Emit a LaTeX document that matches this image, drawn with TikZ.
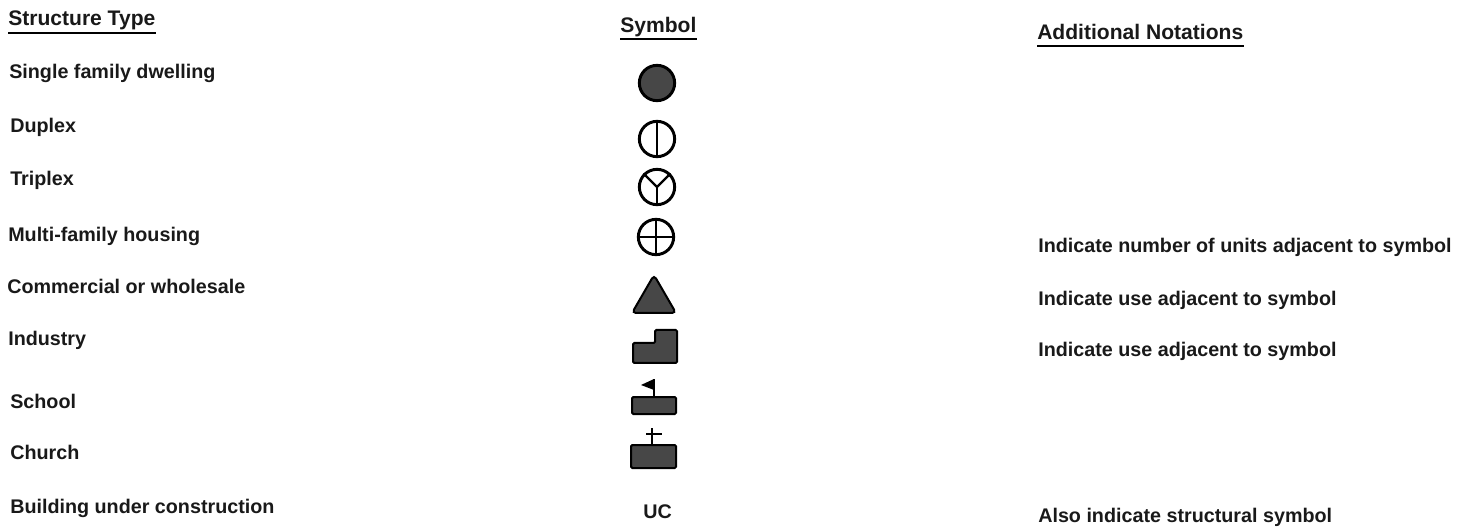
\documentclass[tikz,border=0pt]{standalone}
\usepackage{fontspec}
\setmainfont{Liberation Sans}
\tikzset{
label/.style={anchor=base west,inner sep=0pt,font=\fontsize{14.8}{16}\selectfont\bfseries,text=black!90},
heading/.style={label,font=\fontsize{15.8}{17}\selectfont\bfseries},
rule/.style={line width=1.5pt,black},
ring/.style={circle,draw=black,line width=2.2pt,minimum size=26.5pt,inner sep=0pt},
solid block/.style={draw=black,fill=black!72,line width=1.5pt,rounded corners=1pt},
mark line/.style={line width=1.8pt,black}
}
\begin{document}
\begin{tikzpicture}[x=0.75pt,y=-0.75pt]
\useasboundingbox (0,0) rectangle (1457,527);
% the headings
\node[heading] (type) at (8,26) {Structure Type};
\node[heading] (symbol) at (620,33) {Symbol};
\node[heading] (notes) at (1037,40) {Additional Notations};
\draw[rule] ([yshift=-5.5pt]type.base west) -- ([yshift=-5.5pt]type.base east);
\foreach \n in {symbol,notes}
{
  \draw[rule] ([yshift=-4.5pt]\n.base west) -- ([yshift=-4.5pt]\n.base east);
}
% the left column
\foreach \n/\x/\y/\t in {single/9/79/Single family dwelling,duplex/10/133/Duplex,triplex/10/186/Triplex,multi/8/242/Multi-family housing,commercial/7/294/Commercial or wholesale,industry/8/345/Industry,school/10/408/School,church/10/459/Church,building/10/513/Building under construction}
{
  \node[label] (\n) at (\x,\y) {\t};
}
% the right column
\node[label] (noteunits) at (1038,253) {Indicate number of units adjacent to symbol};
\node[label] (notecomm) at (1038,306) {Indicate use adjacent to symbol};
\node[label] (noteind) at (1038,357) {Indicate use adjacent to symbol};
\node[label] (noteuc) at (1038,522) {Also indicate structural symbol};
% the housing symbols
\node[ring,fill=black!72] (symsingle) at (657,83) {};
\node[ring] (symduplex) at (657,139) {};
\draw[mark line] (symduplex.north) -- (symduplex.south);
\node[ring] (symtriplex) at (657,187) {};
\draw[mark line] (symtriplex.center) -- (symtriplex.south);
\draw[mark line] (symtriplex.center) -- (symtriplex.north west);
\draw[mark line] (symtriplex.center) -- (symtriplex.north east);
\node[ring] (symmulti) at (656,237) {};
\draw[mark line] (symmulti.north) -- (symmulti.south);
\draw[mark line] (symmulti.west) -- (symmulti.east);
% the building symbols
\draw[solid block,rounded corners=3pt] (654,275) -- (676,313) -- (632,313) -- cycle;
\draw[solid block] (633,343) -- (655,343) -- (655,330) -- (677,330) -- (677,363) -- (633,363) -- cycle;
\draw[solid block] (632,397) rectangle (676,414);
\draw[mark line] (654,397) -- (654,379);
\fill[black] (654,379) -- (641,385) -- (654,390) -- cycle;
\draw[solid block] (631,445) rectangle (676,468);
\draw[mark line] (652,445) -- (652,428);
\draw[mark line] (646,434) -- (662,434);
\node[label,anchor=base] (symuc) at (657.5,518) {UC};
\end{tikzpicture}
\end{document}
